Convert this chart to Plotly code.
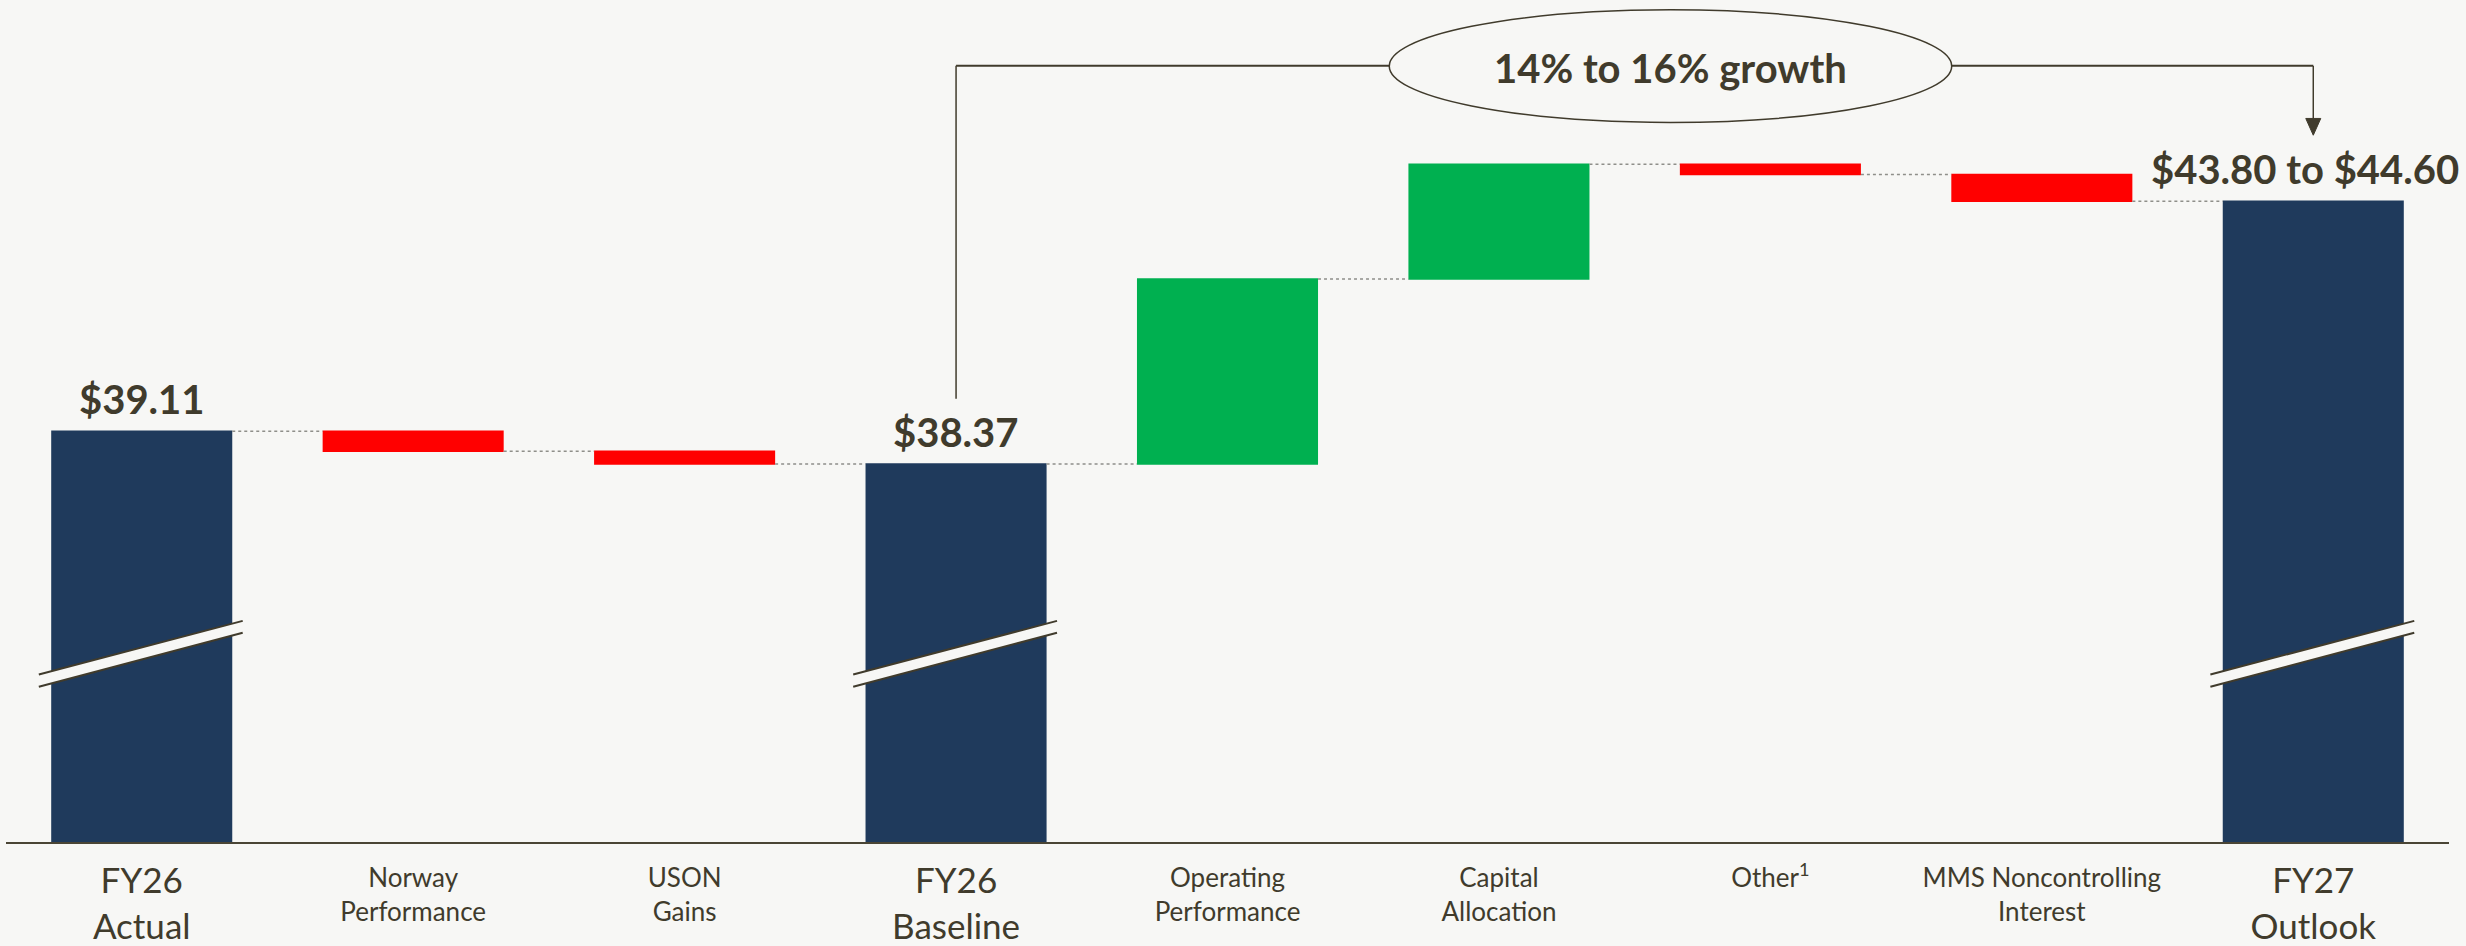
import plotly.graph_objects as go

categories = ["FY26 Actual", "Norway Performance", "USON Gains", "FY26 Baseline",
              "Operating Performance", "Capital Allocation", "Other", "MMS Noncontrolling Interest",
              "FY27 Outlook"]
tick_small = ["", "Norway<br>Performance", "USON<br>Gains", "", "Operating<br>Performance",
              "Capital<br>Allocation", "Other<sup>1</sup>", "MMS Noncontrolling<br>Interest", ""]
tick_big = ["FY26<br>Actual", "", "", "FY26<br>Baseline", "", "", "", "", "FY27<br>Outlook"]
measures = ["absolute", "relative", "relative", "total", "relative", "relative", "relative", "relative", "total"]
values = [39.11, -0.45, -0.29, 0, 4.20, 2.60, -0.23, -0.61, 0]
value_labels = {0: "$39.11", 3: "$38.37", 8: "$43.80 to $44.60"}
growth_text = "14% to 16% growth"

NAVY = "#1f3a5c"
GREEN = "#00b050"
RED = "#ff0000"
TEXT = "#403b2c"
BG = "#f7f7f5"
FONT = "Lato"

xs = list(range(len(categories)))
small_vals = [x for x, t in zip(xs, tick_small) if t]
small_text = [t for t in tick_small if t]
big_vals = [x for x, t in zip(xs, tick_big) if t]
big_text = [t for t in tick_big if t]

# running levels for label placement
levels = []
run = 0.0
for m, v in zip(measures, values):
    if m == "absolute":
        run = v
    elif m == "relative":
        run += v
    levels.append(run)

fig = go.Figure(go.Waterfall(
    x=xs, y=values, measure=measures,
    increasing=dict(marker=dict(color=GREEN)),
    decreasing=dict(marker=dict(color=RED)),
    totals=dict(marker=dict(color=NAVY)),
    connector=dict(line=dict(color="#8f8f8a", width=1.5, dash="dot")),
    textinfo="none", hoverinfo="skip", base=0,
))

# value labels
for i, txt in value_labels.items():
    fig.add_annotation(x=xs[i], y=levels[i], text=f"<b>{txt}</b>", showarrow=False,
                       yanchor="bottom", yshift=6, xshift=(-8 if i == 8 else 0),
                       font=dict(family=FONT, size=40, color=TEXT))

# axis-break slashes on total bars
H = 853.0
def py(p):
    return (H - p) / H
for i, m in enumerate(measures):
    if m in ("absolute", "total"):
        x0, x1 = xs[i] - 0.379, xs[i] + 0.372
        uy0, uy1 = py(683.3), py(629.0)
        ly0, ly1 = py(695.7), py(641.0)
        fig.add_shape(type="path", xref="x", yref="paper",
                      path=f"M {x0},{uy0} L {x1},{uy1} L {x1},{ly1} L {x0},{ly0} Z",
                      fillcolor=BG, line=dict(width=0), layer="above")
        fig.add_shape(type="line", xref="x", yref="paper", x0=x0, y0=uy0, x1=x1, y1=uy1,
                      line=dict(color=TEXT, width=2), layer="above")
        fig.add_shape(type="line", xref="x", yref="paper", x0=x0, y0=ly0, x1=x1, y1=ly1,
                      line=dict(color=TEXT, width=2), layer="above")

# growth bracket
ytop = py(66.7)
ex0, ex1 = 4.596, 6.668
fig.add_shape(type="line", xref="x", yref="paper", x0=3, x1=3, y0=py(404), y1=ytop,
              line=dict(color=TEXT, width=1.5))
fig.add_shape(type="line", xref="x", yref="paper", x0=3, x1=ex0, y0=ytop, y1=ytop,
              line=dict(color=TEXT, width=2))
fig.add_shape(type="line", xref="x", yref="paper", x0=ex1, x1=8, y0=ytop, y1=ytop,
              line=dict(color=TEXT, width=2))
fig.add_shape(type="line", xref="x", yref="paper", x0=8, x1=8, y0=ytop, y1=py(122),
              line=dict(color=TEXT, width=1.5))
aw = 7.5 / 271.4
fig.add_shape(type="path", xref="x", yref="paper",
              path=f"M {8-aw},{py(120)} L {8+aw},{py(120)} L 8,{py(137)} Z",
              fillcolor=TEXT, line=dict(color=TEXT, width=1))
fig.add_shape(type="circle", xref="x", yref="paper", x0=ex0, x1=ex1, y0=py(124), y1=py(10),
              line=dict(color=TEXT, width=1.5), fillcolor=BG)
fig.add_annotation(x=(ex0 + ex1) / 2, y=ytop, xref="x", yref="paper", text=f"<b>{growth_text}</b>",
                   showarrow=False, xanchor="center", yanchor="middle", yshift=-2,
                   font=dict(family=FONT, size=40, color=TEXT))

fig.update_layout(
    width=2466, height=946,
    paper_bgcolor=BG, plot_bgcolor=BG,
    margin=dict(l=6, r=17, t=0, b=93),
    showlegend=False,
    waterfallgap=0.333,
    xaxis=dict(range=[-0.5, 8.5], tickvals=small_vals, ticktext=small_text,
               tickfont=dict(family=FONT, size=26, color=TEXT),
               showline=True, linecolor="#4a4535", linewidth=2, showgrid=False, zeroline=False,
               ticks="outside", ticklen=12, tickcolor="rgba(0,0,0,0)"),
    xaxis2=dict(overlaying="x", side="bottom", matches="x", range=[-0.5, 8.5],
                tickvals=big_vals, ticktext=big_text,
                tickfont=dict(family=FONT, size=35, color=TEXT),
                showline=False, showgrid=False, zeroline=False,
                ticks="outside", ticklen=8, tickcolor="rgba(0,0,0,0)"),
    yaxis=dict(range=[29.79, 48.9], visible=False, showgrid=False, zeroline=False),
)
fig.add_trace(go.Scatter(x=[xs[0]], y=[levels[0]], xaxis="x2", mode="markers",
                         marker=dict(opacity=0), hoverinfo="skip", showlegend=False))

fig.write_html("out.html")
